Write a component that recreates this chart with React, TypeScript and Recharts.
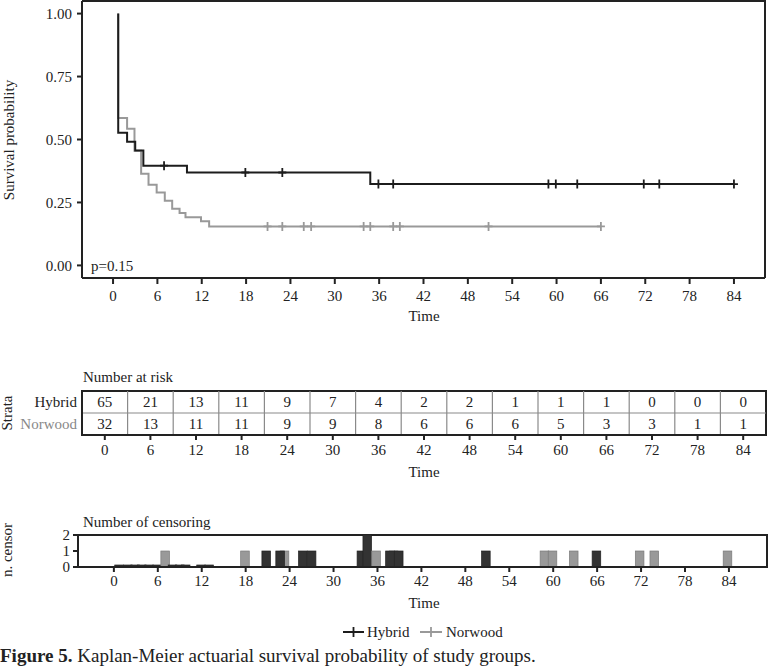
import { Bar, ComposedChart, Line, ReferenceArea, ReferenceLine, Scatter, XAxis, YAxis } from 'recharts';

// time axis shared by all three panels
const timeTicks = [0, 6, 12, 18, 24, 30, 36, 42, 48, 54, 60, 66, 72, 78, 84];

// Kaplan-Meier steps
const hybridTime = [0.7, 0.7, 1.9, 3.0, 4.1, 10.0, 34.8, 84.0];
const hybridSurv = [1.0, 0.527, 0.491, 0.456, 0.396, 0.369, 0.323, 0.323];
const norwoodTime = [0.7, 0.7, 1.9, 2.9, 3.8, 4.8, 5.9, 7.0, 8.0, 9.0, 9.8, 11.9, 13.0, 66.0];
const norwoodSurv = [1.0, 0.585, 0.543, 0.455, 0.364, 0.32, 0.29, 0.257, 0.225, 0.208, 0.191, 0.175, 0.155, 0.155];

// censoring marks on the curves
const hybridCensor = [6.9, 17.9, 22.9, 35.9, 37.9, 58.9, 59.9, 62.8, 71.8, 73.9, 84.0];
const norwoodCensor = [20.9, 22.9, 25.8, 26.8, 33.9, 34.8, 37.9, 38.8, 50.8, 66.0];

// number at risk
const strata = ['Hybrid', 'Norwood'];
const hybridRisk = [65, 21, 13, 11, 9, 7, 4, 2, 2, 1, 1, 1, 0, 0, 0];
const norwoodRisk = [32, 13, 11, 11, 9, 9, 8, 6, 6, 6, 5, 3, 3, 1, 1];

// number of censoring (N = dark bars, H = grey bars)
const censorTime = [0.7, 1.9, 2.9, 3.8, 4.8, 5.9, 7.0, 8.0, 9.0, 9.8, 11.9, 13.0, 17.9, 20.8, 23.3, 22.7, 25.8, 27.0, 33.8, 34.6, 35.8, 38.2, 37.7, 38.9, 50.8, 58.8, 59.9, 62.8, 65.9, 71.8, 73.8, 83.8];
const censorCount = [0, 0, 0, 0, 0, 0, 1, 0, 0, 0, 0, 0, 1, 1, 1, 1, 1, 1, 1, 2, 1, 1, 1, 1, 1, 1, 1, 1, 1, 1, 1, 1];
const censorGroup = ['N', 'N', 'N', 'N', 'N', 'N', 'H', 'N', 'N', 'N', 'N', 'N', 'H', 'N', 'H', 'N', 'N', 'N', 'N', 'N', 'H', 'H', 'N', 'N', 'N', 'H', 'H', 'H', 'N', 'H', 'H', 'H'];

const DARK = '#222';
const HYB = '#1c1c1c';
const NOR = '#999';
const FONT = '"Liberation Serif", "Times New Roman", serif';

const steps = (ts: number[], ss: number[]) => ts.map((t, i) => ({ t, s: ss[i] }));
const survAt = (ts: number[], ss: number[], t: number) => {
  let v = ss[0];
  ts.forEach((x, i) => { if (x <= t) v = ss[i]; });
  return v;
};

const hybridLine = steps(hybridTime, hybridSurv);
const norwoodLine = steps(norwoodTime, norwoodSurv);
const hybridMarks = hybridCensor.map(t => ({ t, s: survAt(hybridTime, hybridSurv, t) }));
const norwoodMarks = norwoodCensor.map(t => ({ t, s: survAt(norwoodTime, norwoodSurv, t) }));

const riskRows = [
  ...timeTicks.map((t, i) => ({ t, y: 1.5, n: hybridRisk[i] })),
  ...timeTicks.map((t, i) => ({ t, y: 0.5, n: norwoodRisk[i] })),
];
const censorRows = censorTime.map((t, i) => ({ t, n: censorCount[i], g: censorGroup[i] }));

const frame = { stroke: DARK, strokeWidth: 2 };
const tickStyle = { fontSize: 15, fill: DARK };

// survival panel plot box (from margins / axis sizes below)
const SP = { w: 768, h: 330, top: 1, right: 3, yAxisW: 82, xAxisH: 52 };

const plusMark = (color: string) => (p: any) => (
  <path d={`M${p.cx - 4},${p.cy}h8M${p.cx},${p.cy - 4.5}v9`} stroke={color} strokeWidth={1.8} fill="none" />
);

const RiskNumber = (p: any) => (
  <text x={p.cx} y={p.cy} textAnchor="middle" dominantBaseline="central" fontSize={15} fill={DARK}>
    {p.payload.n}
  </text>
);

const StrataTick = (p: any) => {
  const top = p.payload.value > 1;
  return (
    <text x={p.x} y={p.y} textAnchor="end" dominantBaseline="central" fontSize={15} fill={top ? DARK : '#888'}>
      {top ? strata[0] : strata[1]}
    </text>
  );
};

const CensorBar = (p: any) => {
  const cx = p.x + p.width / 2;
  const base = p.y + p.height;
  const h = Math.max(p.height, 2);
  const dark = p.payload.g === 'N';
  return (
    <rect x={cx - 4.3} y={base - h} width={8.6} height={h}
      fill={dark ? '#333' : '#999'} stroke={dark ? '#222' : '#7a7a7a'} strokeWidth={0.7} />
  );
};

function SurvivalPanel() {
  const dom: [number, number] = [-4.2, 88.2];
  const ydom: [number, number] = [-0.05, 1.05];
  return (
    <ComposedChart width={SP.w} height={SP.h} data={hybridLine} margin={{ top: SP.top, right: SP.right, left: 0, bottom: 0 }}>
      <XAxis dataKey="t" type="number" domain={dom} ticks={timeTicks} allowDataOverflow height={SP.xAxisH} interval={0}
        tick={tickStyle} tickSize={6} tickMargin={6} axisLine={frame} tickLine={frame} />
      <YAxis dataKey="s" type="number" domain={ydom} ticks={[0, 0.25, 0.5, 0.75, 1]} interval={0}
        width={SP.yAxisW} tick={tickStyle} tickSize={5} tickMargin={5} axisLine={frame} tickLine={frame}
        tickFormatter={(v: number) => v.toFixed(2)} />
      <Line data={norwoodLine} dataKey="s" type="stepAfter" stroke={NOR} strokeWidth={2} dot={false} isAnimationActive={false} />
      <Line data={hybridLine} dataKey="s" type="stepAfter" stroke={HYB} strokeWidth={2} dot={false} isAnimationActive={false} />
      <Scatter data={norwoodMarks} dataKey="s" shape={plusMark(NOR)} isAnimationActive={false} />
      <Scatter data={hybridMarks} dataKey="s" shape={plusMark(HYB)} isAnimationActive={false} />
    </ComposedChart>
  );
}

function RiskTable() {
  const dom: [number, number] = [-3, 87];
  const ydom: [number, number] = [0, 2];
  return (
    <ComposedChart width={768} height={120} data={riskRows} margin={{ top: 31, right: 2, left: 0, bottom: 0 }}>
      <XAxis dataKey="t" type="number" domain={dom} ticks={timeTicks} allowDataOverflow height={45} interval={0}
        tick={tickStyle} tickSize={5} tickMargin={4} axisLine={frame} tickLine={frame} />
      <YAxis dataKey="y" type="number" domain={ydom} ticks={[0.5, 1.5]} width={82} interval={0}
        tick={<StrataTick />} tickSize={0} tickMargin={5} tickLine={false} axisLine={frame} />
      {timeTicks.slice(0, -1).map(t => (
        <ReferenceLine key={t} x={t + 3} stroke="#8a8a8a" strokeWidth={1.2} />
      ))}
      <ReferenceLine y={1} stroke="#8a8a8a" strokeWidth={1.2} />
      <ReferenceArea x1={dom[0]} x2={dom[1]} y1={ydom[0]} y2={ydom[1]} fill="none" fillOpacity={0}
        stroke={DARK} strokeWidth={2} ifOverflow="visible" />
      <Scatter dataKey="y" shape={<RiskNumber />} isAnimationActive={false} />
    </ComposedChart>
  );
}

function CensorPanel() {
  const dom: [number, number] = [-4.9, 89.2];
  const ydom: [number, number] = [0, 2];
  return (
    <ComposedChart width={768} height={120} data={censorRows} margin={{ top: 35, right: 1, left: 0, bottom: 0 }}>
      <XAxis dataKey="t" type="number" domain={dom} ticks={timeTicks} allowDataOverflow height={53} interval={0}
        tick={tickStyle} tickSize={5} tickMargin={3} axisLine={frame} tickLine={frame} />
      <YAxis type="number" domain={ydom} ticks={[0, 1, 2]} width={78} interval={0}
        tick={tickStyle} tickSize={5} tickMargin={3} axisLine={frame} tickLine={frame} />
      <ReferenceArea x1={dom[0]} x2={dom[1]} y1={ydom[0]} y2={ydom[1]} fill="none" fillOpacity={0}
        stroke={DARK} strokeWidth={2} ifOverflow="visible" />
      <Bar dataKey="n" minPointSize={2} shape={<CensorBar />} isAnimationActive={false} />
    </ComposedChart>
  );
}

export default function App() {
  return (
    <div style={{ position: 'absolute', left: 0, top: 0, width: 768, height: 668, background: '#fff', fontFamily: FONT, color: DARK }}>
      <div style={{ position: 'absolute', left: 0, top: 0 }}><SurvivalPanel /></div>
      <div style={{ position: 'absolute', left: 0, top: 360 }}><RiskTable /></div>
      <div style={{ position: 'absolute', left: 0, top: 500 }}><CensorPanel /></div>
      <svg width={768} height={668} style={{ position: 'absolute', left: 0, top: 0, pointerEvents: 'none', zIndex: 5 }}
        fontFamily={FONT} fontSize={15} fill={DARK}>
        <path d={`M${SP.yAxisW},${SP.top}H${SP.w - SP.right}V${SP.h - SP.xAxisH}`}
          fill="none" stroke={DARK} strokeWidth={2} />
        <text x={9} y={140} transform="rotate(-90 9 140)" textAnchor="middle" dominantBaseline="central">Survival probability</text>
        <text x={91} y={266} dominantBaseline="central">p=0.15</text>
        <text x={424} y={316} textAnchor="middle" dominantBaseline="central">Time</text>
        <text x={83} y={377} dominantBaseline="central">Number at risk</text>
        <text x={7} y={413} transform="rotate(-90 7 413)" textAnchor="middle" dominantBaseline="central">Strata</text>
        <text x={424} y={472} textAnchor="middle" dominantBaseline="central">Time</text>
        <text x={83} y={522} dominantBaseline="central">Number of censoring</text>
        <text x={7} y={550} transform="rotate(-90 7 550)" textAnchor="middle" dominantBaseline="central">n. censor</text>
        <text x={424} y={603} textAnchor="middle" dominantBaseline="central">Time</text>
        <path d="M343,632h21M353.5,627v10" stroke={HYB} strokeWidth={1.8} />
        <text x={367} y={632} dominantBaseline="central">{strata[0]}</text>
        <path d="M420,632h22M431,627v10" stroke={NOR} strokeWidth={1.8} />
        <text x={446} y={632} dominantBaseline="central">{strata[1]}</text>
        <text x={0} y={655} dominantBaseline="central" fontSize={19}>
          <tspan fontWeight="bold">Figure 5.</tspan> Kaplan-Meier actuarial survival probability of study groups.
        </text>
      </svg>
    </div>
  );
}
